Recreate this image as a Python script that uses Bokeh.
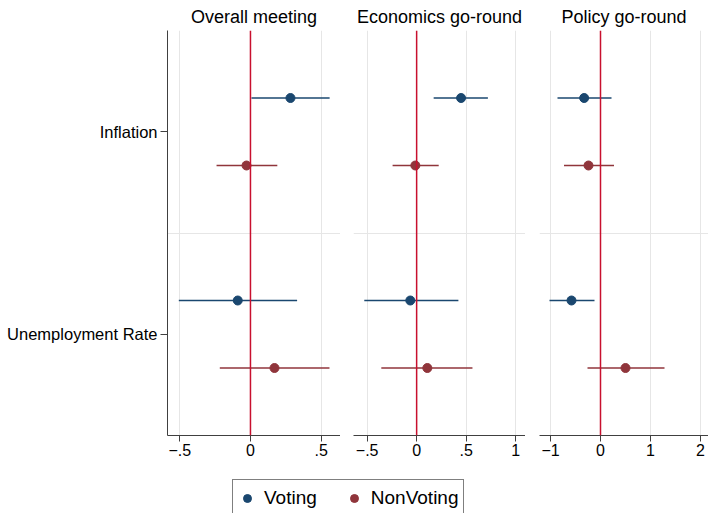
from bokeh.plotting import figure
from bokeh.layouts import row, column
from bokeh.models import Range1d, FixedTicker, Span, Legend, LegendItem
from bokeh.embed import file_html
from bokeh.resources import INLINE

# ---------------- data ----------------
outcomes = ["Inflation", "Unemployment Rate"]
panel_titles = ["Overall meeting", "Economics go-round", "Policy go-round"]
groups = ["Voting", "NonVoting"]

overall_voting_est = [0.283, -0.090]
overall_voting_lo = [0.007, -0.507]
overall_voting_hi = [0.560, 0.330]
overall_nonvoting_est = [-0.028, 0.170]
overall_nonvoting_lo = [-0.240, -0.217]
overall_nonvoting_hi = [0.190, 0.559]

econ_voting_est = [0.449, -0.064]
econ_voting_lo = [0.172, -0.529]
econ_voting_hi = [0.720, 0.422]
econ_nonvoting_est = [-0.013, 0.108]
econ_nonvoting_lo = [-0.243, -0.357]
econ_nonvoting_hi = [0.223, 0.564]

policy_voting_est = [-0.327, -0.580]
policy_voting_lo = [-0.860, -1.020]
policy_voting_hi = [0.220, -0.120]
policy_nonvoting_est = [-0.240, 0.500]
policy_nonvoting_lo = [-0.730, -0.260]
policy_nonvoting_hi = [0.270, 1.280]

overall_ticks = [-0.5, 0, 0.5]
overall_tick_labels = ["\u2212.5", "0", ".5"]
econ_ticks = [-0.5, 0, 0.5, 1]
econ_tick_labels = ["\u2212.5", "0", ".5", "1"]
policy_ticks = [-1, 0, 1, 2]
policy_tick_labels = ["\u22121", "0", "1", "2"]

# ---------------- style ----------------
FONT = "Liberation Sans"
COLORS = {"Voting": "#1a476f", "NonVoting": "#90353b"}
OFFSETS = {"Voting": -1 / 6, "NonVoting": 1 / 6}
ZERO_COLOR = "#c8102e"
GRID_COLOR = "#e6e6e6"
AXIS_COLOR = "#404040"

outcome_pos = {o: i + 1 for i, o in enumerate(outcomes)}


def make_panel(title, xr, ticks, tick_labels, series, first, border_left, fw, border_right):
    p = figure(
        title=title,
        x_range=Range1d(*xr),
        y_range=Range1d(len(outcomes) + 0.5, 0.5),
        frame_width=fw,
        frame_height=405,
        min_border_left=border_left,
        min_border_right=border_right,
        min_border_top=30,
        min_border_bottom=30,
        toolbar_location=None,
        output_backend="svg",
        y_axis_location="left" if first else None,
    )
    p.outline_line_color = None
    p.background_fill_color = "white"
    p.border_fill_color = "white"

    p.title.text_font = FONT
    p.title.text_font_size = "18px"
    p.title.text_font_style = "normal"
    p.title.text_color = "black"
    p.title.align = "center"
    p.title.standoff = 8

    xa = p.xaxis[0]
    xa.ticker = FixedTicker(ticks=ticks)
    xa.major_label_overrides = {t: l for t, l in zip(ticks, tick_labels)}
    xa.major_label_text_font = FONT
    xa.major_label_text_font_size = "16px"
    xa.major_label_text_color = "black"
    xa.major_tick_out = 6
    xa.major_tick_in = 0
    xa.minor_tick_line_color = None
    xa.axis_line_color = AXIS_COLOR
    xa.major_tick_line_color = AXIS_COLOR
    xa.major_label_standoff = 2

    if first:
        ya = p.yaxis[0]
        ya.ticker = FixedTicker(ticks=[outcome_pos[o] for o in outcomes])
        ya.major_label_overrides = {outcome_pos[o]: o for o in outcomes}
        ya.major_label_text_font = FONT
        ya.major_label_text_font_size = "16.5px"
        ya.major_label_text_color = "black"
        ya.major_tick_out = 7
        ya.major_tick_in = 0
        ya.minor_tick_line_color = None
        ya.axis_line_color = AXIS_COLOR
        ya.major_tick_line_color = AXIS_COLOR
        ya.major_label_standoff = 3

    p.xgrid.grid_line_color = GRID_COLOR
    p.xgrid.grid_line_width = 1
    p.ygrid.ticker = FixedTicker(ticks=[i + 1.5 for i in range(len(outcomes) - 1)])
    p.ygrid.grid_line_color = GRID_COLOR
    p.ygrid.grid_line_width = 1

    for g in groups:
        est, lo, hi = series[g]
        ys = [outcome_pos[o] + OFFSETS[g] for o in outcomes]
        p.segment(x0=lo, x1=hi, y0=ys, y1=ys, line_color=COLORS[g], line_width=1.5)
        p.scatter(x=est, y=ys, size=9, fill_color=COLORS[g], line_color=COLORS[g])

    p.add_layout(Span(location=0, dimension="height", line_color=ZERO_COLOR, line_width=1.5))
    return p


p1 = make_panel(panel_titles[0], (-0.587, 0.637), overall_ticks, overall_tick_labels,
                {"Voting": (overall_voting_est, overall_voting_lo, overall_voting_hi),
                 "NonVoting": (overall_nonvoting_est, overall_nonvoting_lo, overall_nonvoting_hi)},
                True, 167, 173, 0)
p2 = make_panel(panel_titles[1], (-0.638, 1.10), econ_ticks, econ_tick_labels,
                {"Voting": (econ_voting_est, econ_voting_lo, econ_voting_hi),
                 "NonVoting": (econ_nonvoting_est, econ_nonvoting_lo, econ_nonvoting_hi)},
                False, 13, 172, 0)
p3 = make_panel(panel_titles[2], (-1.22, 2.16), policy_ticks, policy_tick_labels,
                {"Voting": (policy_voting_est, policy_voting_lo, policy_voting_hi),
                 "NonVoting": (policy_nonvoting_est, policy_nonvoting_lo, policy_nonvoting_hi)},
                False, 14, 169, 0)

# ---------------- legend ----------------
leg = figure(
    width=708, height=48,
    min_border_left=232, min_border_top=14, min_border_right=0, min_border_bottom=0,
    x_range=Range1d(0, 1), y_range=Range1d(0, 1),
    x_axis_location=None, y_axis_location=None,
    toolbar_location=None, output_backend="svg",
)
leg.outline_line_color = None
leg.grid.visible = False
legend_est = {"Voting": overall_voting_est, "NonVoting": overall_nonvoting_est}
items = []
for g in groups:
    r = leg.scatter(x=legend_est[g], y=legend_est[g], size=9,
                    fill_color=COLORS[g], line_color=COLORS[g])
    r.visible = False
    items.append(LegendItem(label=g, renderers=[r]))
legend = Legend(
    items=items, orientation="horizontal", location="top_left", margin=0,
    padding=4, spacing=27, glyph_width=20, glyph_height=28, label_height=28,
    label_standoff=7, label_text_font=FONT, label_text_font_size="19px",
    label_text_color="black", border_line_color="black", border_line_width=1,
    background_fill_color="white", background_fill_alpha=1, click_policy="none",
)
leg.add_layout(legend, "center")

layout = column(row(p1, p2, p3), leg)
open("out.html", "w").write(file_html(layout, INLINE))
